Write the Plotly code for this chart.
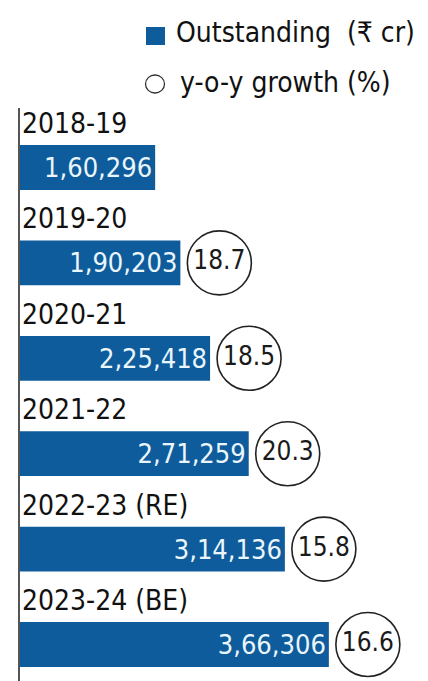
import plotly.graph_objects as go

# Outstanding amount (Rs crore) and year-on-year growth (%)
years = ["2018-19", "2019-20", "2020-21", "2021-22", "2022-23 (RE)", "2023-24 (BE)"]
outstanding = [160296, 190203, 225418, 271259, 314136, 366306]
growth = [None, 18.7, 18.5, 20.3, 15.8, 16.6]

legend_bar_label = "Outstanding\u00a0 (₹ cr)"
legend_circle_label = "y-o-y growth (%)"

W, H = 428, 681
M_L, M_T = 20, 108
PLOT_W, PLOT_H = W - M_L, H - M_T
UNITS_PER_PX = 1186  # x-axis units per screen pixel
BLUE = "#0e5c9b"
FONT = "DejaVu Sans Condensed, Roboto, sans-serif"


def indian_format(n):
    s = str(int(n))
    if len(s) <= 3:
        return s
    head, tail = s[:-3], s[-3:]
    parts = []
    while len(head) > 2:
        parts.insert(0, head[-2:])
        head = head[:-2]
    if head:
        parts.insert(0, head)
    return ",".join(parts + [tail])


def px_x(px):
    return (px - M_L) / PLOT_W


def px_y(py):
    return (H - py) / PLOT_H


fig = go.Figure()

fig.add_trace(go.Bar(
    x=outstanding,
    y=years,
    orientation="h",
    width=0.47,
    marker=dict(color=BLUE, line=dict(width=0)),
    text=[indian_format(v) for v in outstanding],
    textposition="inside",
    insidetextanchor="end",
    insidetextfont=dict(color="#eaf6fb", size=27, family=FONT),
    cliponaxis=False,
    hoverinfo="skip",
    showlegend=False,
))

# growth circles sit just past the end of each bar
gx, gy, gt = [], [], []
for yr, v, g in zip(years, outstanding, growth):
    if g is None:
        continue
    gx.append(v + 39 * UNITS_PER_PX)
    gy.append(yr)
    gt.append(f"{g:.1f}")

fig.add_trace(go.Scatter(
    x=gx,
    y=gy,
    mode="markers+text",
    marker=dict(symbol="circle", size=64, color="white",
                line=dict(color="#222222", width=1.6)),
    text=gt,
    textposition="middle center",
    textfont=dict(color="#1a1a1a", size=26, family=FONT),
    cliponaxis=False,
    hoverinfo="skip",
    showlegend=False,
))

annotations = []
for yr in years:
    annotations.append(dict(
        x=0, y=yr, xref="x", yref="y",
        text=yr, showarrow=False,
        xanchor="left", yanchor="middle",
        xshift=0, yshift=44,
        font=dict(size=28, color="#111111", family=FONT),
    ))

# legend
annotations.append(dict(
    x=px_x(174), y=px_y(33), xref="paper", yref="paper",
    text=legend_bar_label, showarrow=False,
    xanchor="left", yanchor="middle",
    font=dict(size=28, color="#111111", family=FONT),
))
annotations.append(dict(
    x=px_x(178), y=px_y(82), xref="paper", yref="paper",
    text=legend_circle_label, showarrow=False,
    xanchor="left", yanchor="middle",
    font=dict(size=28, color="#111111", family=FONT),
))

shapes = [
    dict(type="rect", xref="paper", yref="paper",
         x0=px_x(146), x1=px_x(165), y0=px_y(45), y1=px_y(27),
         fillcolor=BLUE, line=dict(width=0)),
    dict(type="circle", xref="paper", yref="paper",
         x0=px_x(145.5), x1=px_x(164.5), y0=px_y(93), y1=px_y(75),
         fillcolor="white", line=dict(color="#333333", width=1.3)),
]

fig.update_layout(
    width=W, height=H,
    margin=dict(l=M_L, r=0, t=M_T, b=0),
    paper_bgcolor="white", plot_bgcolor="white",
    xaxis=dict(range=[0, PLOT_W * UNITS_PER_PX], visible=False),
    yaxis=dict(
        type="category",
        categoryorder="array", categoryarray=years,
        range=[5.383, -0.624],
        showticklabels=False, ticks="",
        showgrid=False, zeroline=False,
        showline=True, linecolor="#555555", linewidth=1.5,
    ),
    annotations=annotations,
    shapes=shapes,
    showlegend=False,
)

fig.write_html("out.html")
